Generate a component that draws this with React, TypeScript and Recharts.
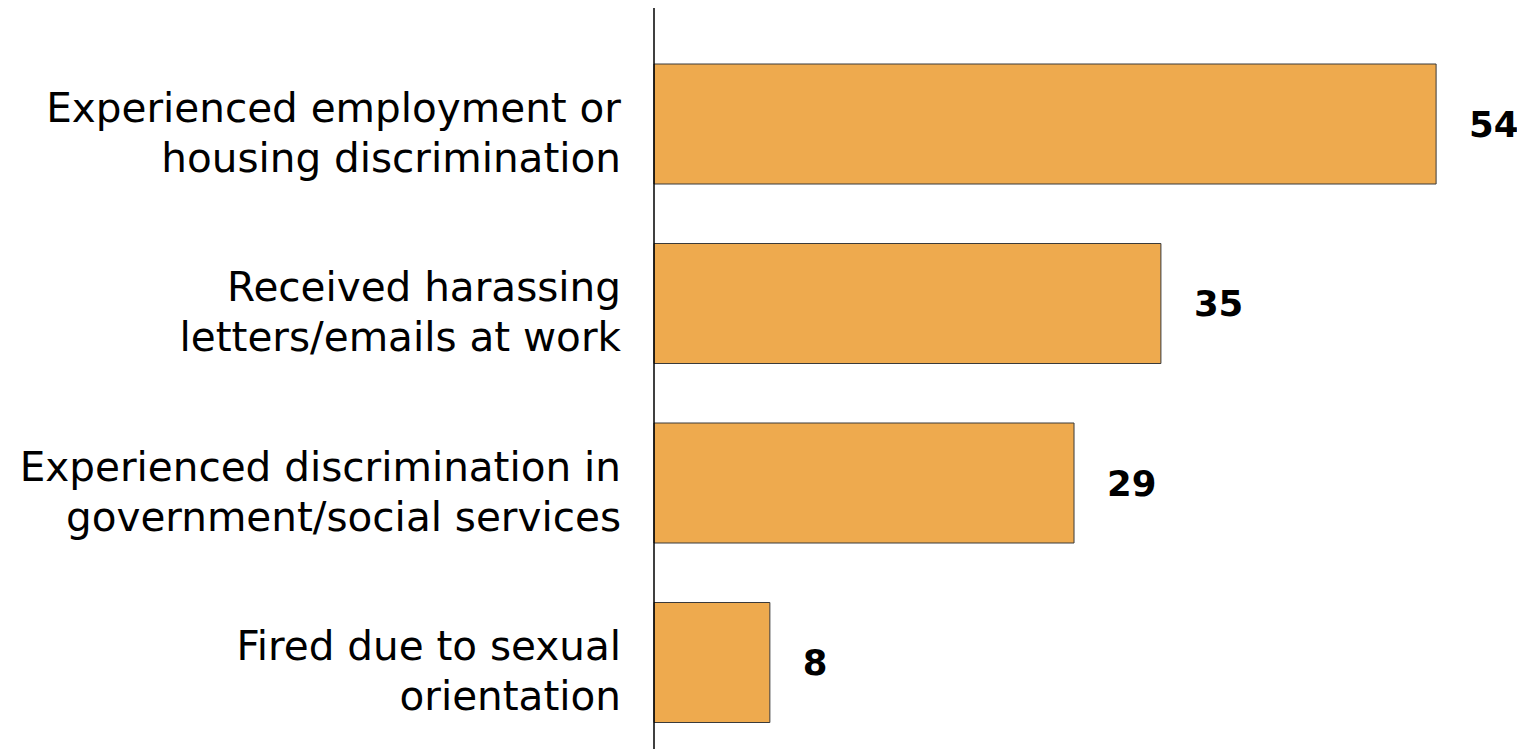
import React from "react";
import { Bar, BarChart, LabelList, XAxis, YAxis } from "recharts";

const categories = [
  "Experienced employment or\nhousing discrimination",
  "Received harassing\nletters/emails at work",
  "Experienced discrimination in\ngovernment/social services",
  "Fired due to sexual\norientation",
];
const values = [54, 35, 29, 8];

const data = categories.map((name, i) => ({ name, value: values[i] }));

const FONT = "'DejaVu Sans', Verdana, sans-serif";

function CategoryTick(props: any) {
  const { x, y, payload } = props;
  const lines = String(payload.value).split("\n");
  const lh = 50;
  const start = -((lines.length - 1) * lh) / 2 + 9;
  return (
    <text x={x - 25} y={y} textAnchor="end" fontFamily={FONT} fontSize={40.5} fill="#000">
      {lines.map((l, i) => (
        <tspan key={i} x={x - 25} y={y + start + i * lh} dy="0.35em">
          {l}
        </tspan>
      ))}
    </text>
  );
}

export default function App() {
  return (
    <div style={{ width: 1517, height: 744 }}>
      <BarChart
        width={1517}
        height={744}
        data={data}
        layout="vertical"
        margin={{ top: 0, right: 2, bottom: 0, left: 0 }}
      >
        <XAxis type="number" domain={[0, 60]} hide />
        <YAxis
          type="category"
          dataKey="name"
          width={646}
          padding={{ top: 26, bottom: 0 }}
          axisLine={{ stroke: "#000", strokeWidth: 1.5 }}
          tickLine={false}
          tick={<CategoryTick />}
          interval={0}
        />
        <Bar dataKey="value" fill="#EEAA4E" stroke="#3a3a3a" strokeWidth={1} barSize={120} isAnimationActive={false}>
          <LabelList
            dataKey="value"
            position="right"
            offset={33}
            fill="#000"
            fontFamily={FONT}
            fontWeight="bold"
            fontSize={35.5}
          />
        </Bar>
      </BarChart>
    </div>
  );
}
